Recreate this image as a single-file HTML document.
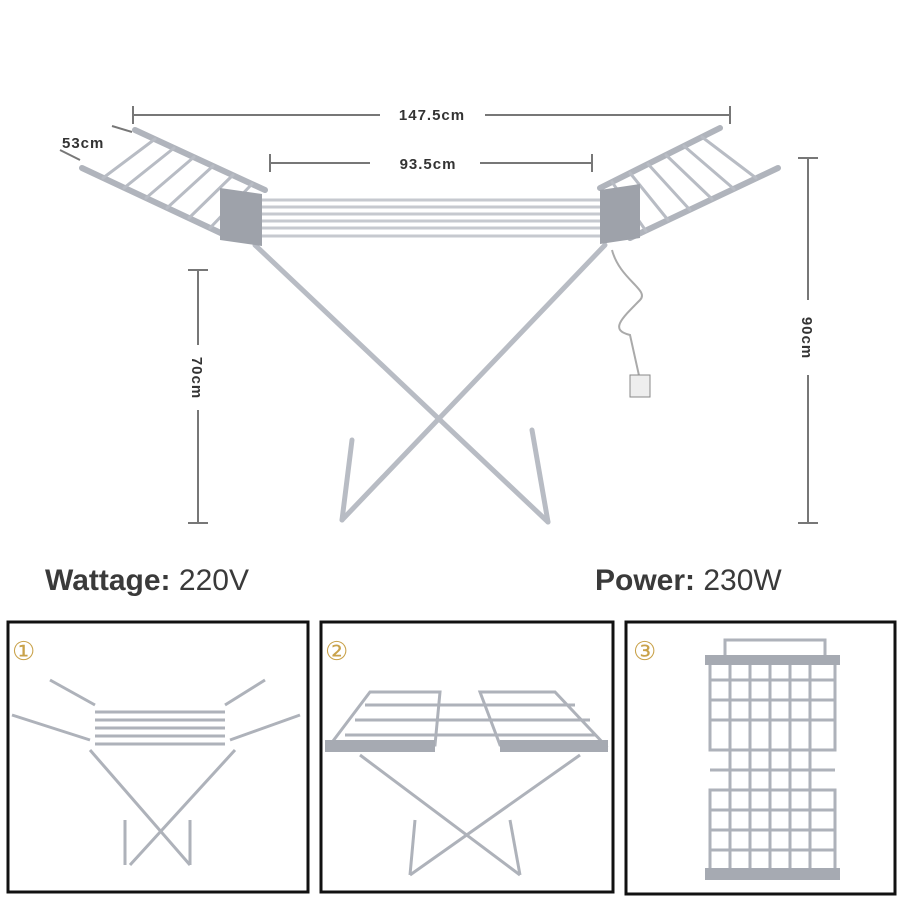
<!DOCTYPE html>
<html><head><meta charset="utf-8"><style>
html,body{margin:0;padding:0;background:#fff;}
svg{display:block;}
</style></head><body>
<svg width="900" height="900" viewBox="0 0 900 900" xmlns="http://www.w3.org/2000/svg" font-family="Liberation Sans, sans-serif">
<rect width="900" height="900" fill="#fff"/>
<g stroke="#777" stroke-width="2" fill="none">
<line x1="133" y1="115" x2="380" y2="115"/><line x1="485" y1="115" x2="730" y2="115"/>
<line x1="133" y1="106" x2="133" y2="124"/><line x1="730" y1="106" x2="730" y2="124"/>
<line x1="270" y1="163" x2="370" y2="163"/><line x1="480" y1="163" x2="592" y2="163"/>
<line x1="270" y1="154" x2="270" y2="172"/><line x1="592" y1="154" x2="592" y2="172"/>
<line x1="198" y1="270" x2="198" y2="345"/><line x1="198" y1="410" x2="198" y2="523"/>
<line x1="188" y1="270" x2="208" y2="270"/><line x1="188" y1="523" x2="208" y2="523"/>
<line x1="808" y1="158" x2="808" y2="300"/><line x1="808" y1="375" x2="808" y2="523"/>
<line x1="798" y1="158" x2="818" y2="158"/><line x1="798" y1="523" x2="818" y2="523"/>
<line x1="112" y1="126" x2="132" y2="132"/><line x1="60" y1="150" x2="80" y2="160"/>
</g>
<g fill="#333" font-weight="bold" font-size="15" letter-spacing="1">
<text x="432" y="120" text-anchor="middle">147.5cm</text>
<text x="428" y="169" text-anchor="middle">93.5cm</text>
<text x="62" y="148">53cm</text>
<text transform="translate(192,378) rotate(90)" text-anchor="middle">70cm</text>
<text transform="translate(802,338) rotate(90)" text-anchor="middle">90cm</text>
</g>
<g stroke="#b8bcc4" stroke-width="5" fill="none" stroke-linecap="round">
<line x1="255" y1="245" x2="548" y2="522"/><line x1="605" y1="245" x2="342" y2="520"/>
<line x1="342" y1="520" x2="352" y2="440"/><line x1="548" y1="522" x2="532" y2="430"/>
</g>
<g stroke="#c6c9cf" stroke-width="3">
<line x1="245" y1="200" x2="605" y2="200"/><line x1="245" y1="207" x2="605" y2="207"/>
<line x1="245" y1="214" x2="605" y2="214"/><line x1="245" y1="221" x2="605" y2="221"/>
<line x1="245" y1="228" x2="605" y2="228"/><line x1="245" y1="236" x2="605" y2="236"/>
</g>
<g stroke="#b0b4bc" stroke-width="6" fill="none" stroke-linecap="round">
<line x1="135" y1="130" x2="265" y2="190"/><line x1="82" y1="168" x2="225" y2="235"/>
<line x1="720" y1="128" x2="600" y2="188"/><line x1="778" y1="168" x2="630" y2="238"/>
</g>
<g stroke="#b8bcc4" stroke-width="3" stroke-linecap="round">
<line x1="103" y1="178" x2="155" y2="139"/><line x1="124" y1="188" x2="174" y2="148"/>
<line x1="146" y1="198" x2="194" y2="157"/><line x1="167" y1="208" x2="213" y2="166"/>
<line x1="189" y1="218" x2="233" y2="175"/><line x1="210" y1="228" x2="252" y2="184"/>
<line x1="756" y1="178" x2="702" y2="137"/><line x1="734" y1="189" x2="684" y2="146"/>
<line x1="712" y1="199" x2="666" y2="155"/><line x1="690" y1="210" x2="648" y2="164"/>
<line x1="668" y1="220" x2="630" y2="173"/><line x1="646" y1="231" x2="612" y2="182"/>
</g>
<polygon points="220,188 262,194 262,246 220,240" fill="#9ea2aa"/>
<polygon points="600,190 640,184 640,238 600,244" fill="#9ea2aa"/>
<path d="M612 250 C620 280 650 290 640 300 C620 320 610 330 630 335 L640 380" stroke="#aaa" stroke-width="2" fill="none"/>
<rect x="630" y="375" width="20" height="22" fill="#eee" stroke="#888"/>
<text x="45" y="590" font-size="30" fill="#3a3a3a"><tspan font-weight="bold">Wattage:</tspan> 220V</text>
<text x="595" y="590" font-size="30" fill="#3a3a3a"><tspan font-weight="bold">Power:</tspan> 230W</text>
<g fill="none" stroke="#111" stroke-width="3">
<rect x="8" y="622" width="300" height="270"/>
<rect x="321" y="622" width="292" height="270"/>
<rect x="626" y="622" width="269" height="272"/>
</g>
<g fill="#c9a24a" font-size="26" font-family="DejaVu Sans, sans-serif">
<text x="12" y="660">①</text><text x="325" y="660">②</text><text x="633" y="660">③</text>
</g>
<g stroke="#aeb2ba" stroke-width="3" fill="none">
<line x1="95" y1="712" x2="225" y2="712"/><line x1="95" y1="720" x2="225" y2="720"/><line x1="95" y1="728" x2="225" y2="728"/><line x1="95" y1="736" x2="225" y2="736"/><line x1="95" y1="744" x2="225" y2="744"/>
<line x1="12" y1="715" x2="90" y2="740"/><line x1="50" y1="680" x2="95" y2="705"/>
<line x1="230" y1="740" x2="300" y2="715"/><line x1="225" y1="705" x2="265" y2="680"/>
<line x1="90" y1="750" x2="190" y2="865"/><line x1="235" y1="750" x2="130" y2="865"/>
<line x1="125" y1="865" x2="125" y2="820"/><line x1="190" y1="865" x2="190" y2="820"/>
</g>
<g stroke="#aeb2ba" stroke-width="3" fill="none">
<path d="M370 692 L440 692 L435 745 L330 745 Z"/><path d="M480 692 L555 692 L605 745 L500 745 Z"/>
<line x1="355" y1="720" x2="590" y2="720"/><line x1="365" y1="705" x2="575" y2="705"/><line x1="345" y1="735" x2="595" y2="735"/>
<line x1="360" y1="755" x2="520" y2="875"/><line x1="580" y1="755" x2="410" y2="875"/>
<line x1="410" y1="875" x2="415" y2="820"/><line x1="520" y1="875" x2="510" y2="820"/>
</g>
<rect x="325" y="740" width="110" height="12" fill="#a6aab2"/><rect x="500" y="740" width="108" height="12" fill="#a6aab2"/>
<g stroke="#aeb2ba" stroke-width="3" fill="none">
<rect x="710" y="660" width="125" height="90"/><rect x="710" y="790" width="125" height="85"/>
<rect x="725" y="640" width="100" height="20"/>
<line x1="730" y1="660" x2="730" y2="875"/><line x1="750" y1="660" x2="750" y2="875"/><line x1="770" y1="660" x2="770" y2="875"/><line x1="790" y1="660" x2="790" y2="875"/><line x1="810" y1="660" x2="810" y2="875"/>
<line x1="710" y1="680" x2="835" y2="680"/><line x1="710" y1="700" x2="835" y2="700"/><line x1="710" y1="720" x2="835" y2="720"/><line x1="710" y1="750" x2="835" y2="750"/><line x1="710" y1="770" x2="835" y2="770"/><line x1="710" y1="810" x2="835" y2="810"/><line x1="710" y1="830" x2="835" y2="830"/><line x1="710" y1="850" x2="835" y2="850"/>
</g>
<rect x="705" y="655" width="135" height="10" fill="#a6aab2"/><rect x="705" y="868" width="135" height="12" fill="#a6aab2"/>
</svg>
</body></html>
